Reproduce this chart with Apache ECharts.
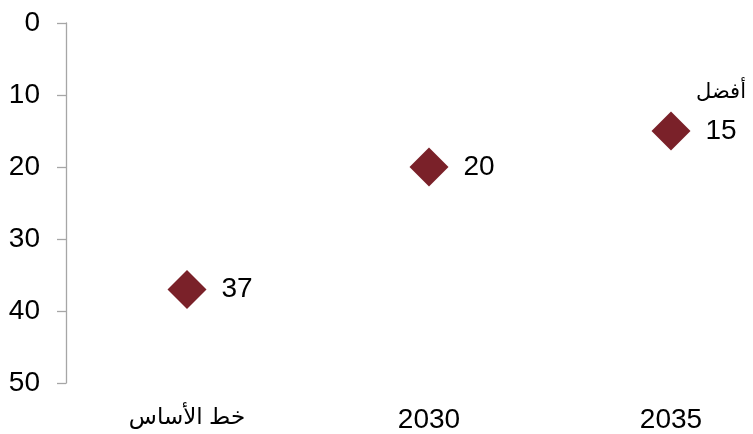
<!DOCTYPE html>
<html>
<head>
<meta charset="utf-8">
<script src="https://cdn.jsdelivr.net/npm/echarts@6/dist/echarts.min.js"></script>
<style>
  html, body { margin: 0; padding: 0; background: #fff; overflow: hidden; }
  /* plot area runs past the right edge in the original, so the canvas is wider than the window */
  #chart { width: 792px; height: 434px; }
</style>
</head>
<body>
<div id="chart"></div>
<script>
// data
var categories = ['خط الأساس', '2030', '2035'];
var values = [37, 20, 15];
var yTicks = [0, 10, 20, 30, 40, 50];
var bestLabel = 'أفضل';

var font = '"Liberation Sans", Arial, "DejaVu Sans", sans-serif';

var chart = echarts.init(document.getElementById('chart'));

var option = {
  animation: false,
  grid: {
    left: 66,
    top: 23,
    right: 0,
    height: 360
  },
  xAxis: {
    type: 'category',
    data: categories,
    boundaryGap: true,
    axisLine: { show: false },
    axisTick: { show: false },
    axisLabel: {
      interval: 0,
      hideOverlap: false,
      color: '#000',
      fontSize: 28,
      fontFamily: font,
      margin: 23,
      formatter: function (v) {
        return /^\d+$/.test(v) ? v : '{ar|' + v + '}';
      },
      rich: {
        ar: { fontSize: 23, fontFamily: font, color: '#000' }
      }
    }
  },
  yAxis: {
    type: 'value',
    inverse: true,
    min: yTicks[0],
    max: yTicks[yTicks.length - 1],
    interval: 10,
    splitLine: { show: false },
    axisLine: { show: true, lineStyle: { color: '#a6a6a6', width: 1.3 } },
    axisTick: { show: true, length: 9, lineStyle: { color: '#a6a6a6', width: 1.3 } },
    axisLabel: {
      color: '#000',
      fontSize: 28,
      fontFamily: font,
      margin: 26
    }
  },
  series: [
    {
      type: 'scatter',
      data: values,
      symbol: 'diamond',
      symbolSize: 39,
      itemStyle: { color: '#7a2129', opacity: 1 },
      label: {
        show: true,
        position: 'right',
        distance: 15,
        color: '#000',
        fontSize: 28,
        fontFamily: font
      }
    }
  ],
  graphic: [
    {
      type: 'text',
      left: 696,
      top: 82,
      style: {
        text: bestLabel,
        fill: '#000',
        fontSize: 21,
        fontFamily: font
      }
    }
  ]
};

chart.setOption(option);
</script>
</body>
</html>
